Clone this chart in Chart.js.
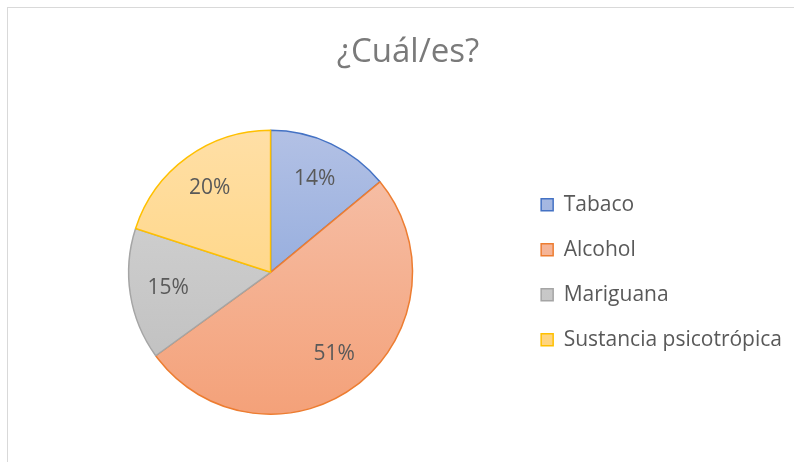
<!DOCTYPE html>
<html>
<head>
<meta charset="utf-8">
<script src="https://cdn.jsdelivr.net/npm/chart.js@4/dist/chart.umd.min.js"></script>
<style>
  html, body { margin: 0; padding: 0; background: #fff; }
  #frame {
    position: absolute; left: 7px; top: 7px;
    width: 787px; height: 455px;
    border-left: 1px solid #d9d9d9; border-top: 1px solid #d9d9d9;
  }
  #wrap { position: absolute; left: 0; top: 0; width: 786px; height: 454px; }
</style>
</head>
<body>
<div id="frame"><div id="wrap"><canvas id="pie-chart"></canvas></div></div>
<script>
var categories = ['Tabaco', 'Alcohol', 'Mariguana', 'Sustancia psicotrópica'];
var percents = [14, 51, 15, 20];
var lineColors = ['#4472c4', '#ed7d31', '#a5a5a5', '#ffc000'];
var topColors = ['#b3c1e5', '#f6c3ad', '#d6d6d6', '#ffdfa6'];
var bottomColors = ['#7d9dd8', '#f4a179', '#bdbdbd', '#ffd172'];

var FONT = '"Open Sans", sans-serif';

function sliceFill(ctx) {
    var area = ctx.chart.chartArea;
    if (!area) return topColors[ctx.dataIndex];
    var g = ctx.chart.ctx.createLinearGradient(0, area.top, 0, area.bottom);
    g.addColorStop(0, topColors[ctx.dataIndex]);
    g.addColorStop(1, bottomColors[ctx.dataIndex]);
    return g;
}

// labels inside the slices, like excel does it
var sliceLabels = {
    id: 'sliceLabels',
    afterDatasetsDraw: function(chart) {
        var c = chart.ctx;
        var meta = chart.getDatasetMeta(0);
        c.save();
        c.font = '21px ' + FONT;
        c.fillStyle = '#595959';
        c.textAlign = 'center';
        c.textBaseline = 'middle';
        meta.data.forEach(function(arc, i) {
            var mid = (arc.startAngle + arc.endAngle) / 2;
            var r = arc.outerRadius * 0.73;
            c.fillText(percents[i] + '%', arc.x + Math.cos(mid) * r, arc.y + Math.sin(mid) * r);
        });
        c.restore();
    }
};

var data = {
    labels: categories,
    datasets: [{
        data: percents,
        backgroundColor: sliceFill,
        borderColor: lineColors,
        borderWidth: 1.5,
    }]
};

var layout = {
    type: 'pie',
    data: data,
    options: {
        responsive: true,
        maintainAspectRatio: false,
        animation: false,
        layout: {
            padding: { left: 16, right: 2, top: 0, bottom: 47 }
        },
        plugins: {
            title: {
                display: true,
                text: '¿Cuál/es?',
                color: '#7a7a7a',
                padding: { top: 25, bottom: 57 },
                font: { family: FONT, size: 33, weight: 'normal' }
            },
            legend: {
                position: 'right',
                fullSize: false,
                labels: {
                    boxWidth: 12,
                    boxHeight: 12,
                    padding: 24,
                    color: '#595959',
                    font: { family: FONT, size: 21 }
                }
            },
            tooltip: { enabled: false }
        }
    },
    plugins: [sliceLabels]
};

const pieCanvas = document.getElementById('pie-chart');
new Chart(pieCanvas, layout);
</script>
</body>
</html>
